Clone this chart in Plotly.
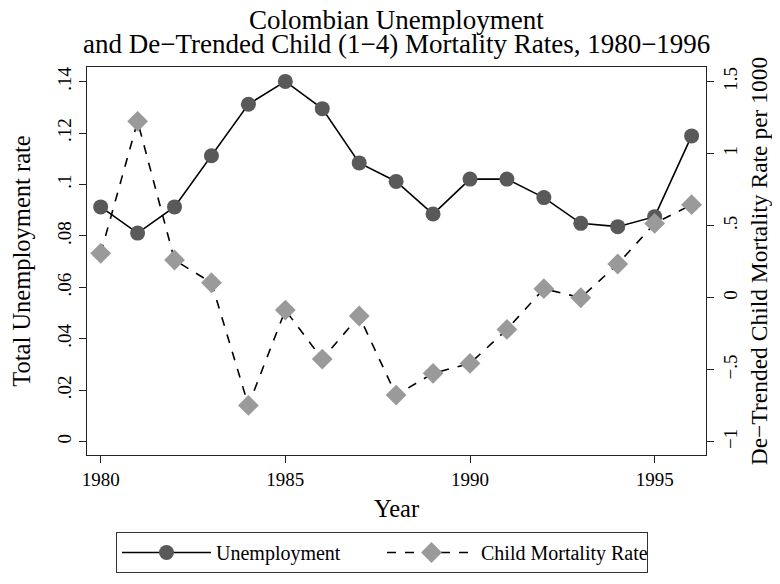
import plotly.graph_objects as go

years = list(range(1980, 1997))
unemployment = [0.0913, 0.0811, 0.0913, 0.1112, 0.1312, 0.1401, 0.1295, 0.1084, 0.1012,
                0.0885, 0.1021, 0.1021, 0.0949, 0.0849, 0.0836, 0.0875, 0.1189]
child_mortality = [0.308, 1.225, 0.262, 0.104, -0.748, -0.086, -0.426, -0.127, -0.676,
                   -0.525, -0.456, -0.220, 0.0625, 0.0, 0.234, 0.516, 0.646]

x_ticks = [1980, 1985, 1990, 1995]
y1_ticks = [0, 0.02, 0.04, 0.06, 0.08, 0.10, 0.12, 0.14]
y1_labels = ["0", ".02", ".04", ".06", ".08", ".1", ".12", ".14"]
y2_ticks = [-1, -0.5, 0, 0.5, 1, 1.5]
y2_labels = ["\u22121", "\u2212.5", "0", ".5", "1", "1.5"]

title_line1 = "Colombian Unemployment"
title_line2 = "and De\u2212Trended Child (1\u22124) Mortality Rates, 1980\u22121996"

FONT = "Liberation Serif"
TICK_SIZE = 19

# page body has an 8px margin; figure coordinates are offset by it
OFF = 8
PL, PR, PT, PB = 87 - OFF, 706 - OFF, 67 - OFF, 455 - OFF   # plot box in figure px
W, H = 780, 584
PH = PB - PT
PW = PR - PL

fig = go.Figure()
fig.add_trace(go.Scatter(
    x=years, y=unemployment, name="Unemployment", mode="lines+markers",
    line=dict(color="black", width=1.6),
    marker=dict(symbol="circle", size=15, color="#595959"),
    yaxis="y"))
fig.add_trace(go.Scatter(
    x=years, y=child_mortality, name="Child Mortality Rate", mode="lines+markers",
    line=dict(color="black", width=1.6, dash="dash"),
    marker=dict(symbol="diamond", size=16, color="#9a9a9a"),
    yaxis="y2"))

axis_common = dict(showgrid=False, zeroline=False, showline=True, linecolor="#222222", linewidth=1.3,
                   ticks="outside", ticklen=7, tickcolor="#222222", automargin=False,
                   tickfont=dict(size=TICK_SIZE, family=FONT, color="black"))

fig.update_layout(
    width=W, height=H,
    margin=dict(l=PL, r=W - PR, t=PT, b=H - PB),
    paper_bgcolor="white", plot_bgcolor="white",
    font=dict(family=FONT, color="black", size=19),
    xaxis=dict(range=[1979.63, 1996.39], tickvals=x_ticks, mirror=True,
               title=dict(text="Year", font=dict(size=24.5), standoff=10),
               **axis_common),
    yaxis=dict(range=[-0.0052, 0.1457], tickvals=y1_ticks, ticktext=y1_labels, tickangle=-90,
               title=dict(text="Total Unemployment rate", font=dict(size=24.5), standoff=20),
               **axis_common),
    yaxis2=dict(range=[-1.092, 1.602], tickvals=y2_ticks, ticktext=y2_labels, tickangle=-90,
                overlaying="y", side="right",
                title=dict(text="De\u2212Trended Child Mortality Rate per 1000", font=dict(size=23.5), standoff=10),
                **axis_common),
    legend=dict(orientation="h", x=(116 - OFF - PL) / PW, xanchor="left",
                y=(PB - (532 - OFF)) / PH, yanchor="top",
                bordercolor="#333333", borderwidth=1, bgcolor="white",
                font=dict(size=20), itemwidth=89, entrywidth=161, entrywidthmode="pixels"),
    showlegend=True,
    annotations=[
        dict(text=title_line1, x=0.5, xref="paper", xanchor="center", y=1 + (PT - (20 - OFF)) / PH, yref="paper",
             yanchor="middle", showarrow=False, font=dict(size=27, family=FONT, color="black")),
        dict(text=title_line2, x=0.5, xref="paper", xanchor="center", y=1 + (PT - (44 - OFF)) / PH, yref="paper",
             yanchor="middle", showarrow=False, font=dict(size=27, family=FONT, color="black")),
    ],
)

fig.write_html("out.html")
